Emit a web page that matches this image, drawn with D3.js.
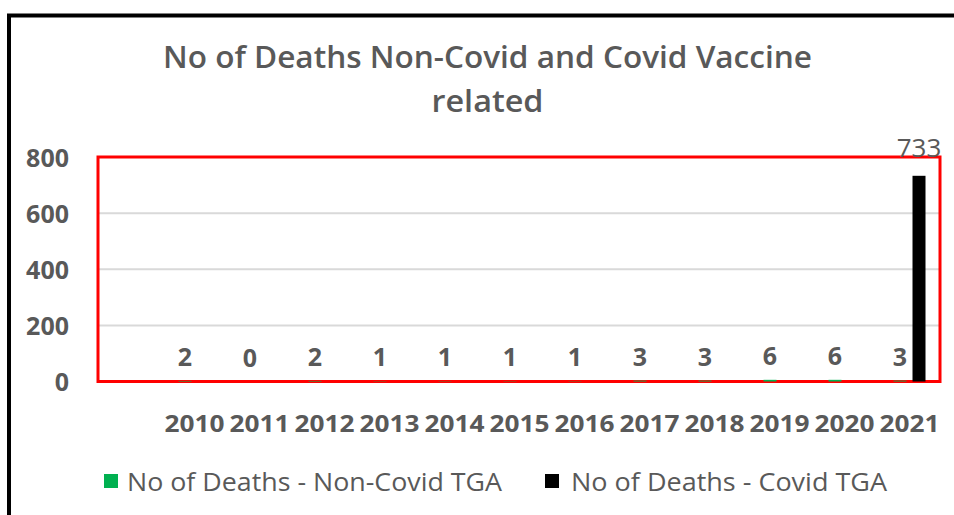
<!DOCTYPE html>
<html>
<head>
<meta charset="utf-8">
<script src="https://cdn.jsdelivr.net/npm/d3@7"></script>
<style>
  html, body { margin: 0; padding: 0; background: #fff; }
  svg { display: block; font-family: "Open Sans", "Liberation Sans", sans-serif; }
</style>
</head>
<body>
<svg id="chart" width="954" height="515"></svg>
<script>
const years = ["2010","2011","2012","2013","2014","2015","2016","2017","2018","2019","2020","2021"];
const nonCovid = [2, 0, 2, 1, 1, 1, 1, 3, 3, 6, 6, 3];
const covid = [null, null, null, null, null, null, null, null, null, null, null, 733];
const seriesNames = ["No of Deaths - Non-Covid TGA", "No of Deaths - Covid TGA"];
const seriesColors = ["#00b050", "#000000"];
const yTicks = [0, 200, 400, 600, 800];
const titleLines = ["No of Deaths Non-Covid and Covid Vaccine", "related"];

const svg = d3.select("#chart");
const grey = "#595959";

// outer frame
svg.append("rect").attr("x", 9).attr("y", 15.5).attr("width", 1000).attr("height", 600)
  .attr("fill", "none").attr("stroke", "#000").attr("stroke-width", 4);

// title
svg.append("text").attr("x", 487.5).attr("y", 68).attr("text-anchor", "middle")
  .attr("font-size", 30).attr("font-weight", 600).attr("fill", grey)
  .attr("textLength", 649).attr("lengthAdjust", "spacingAndGlyphs").text(titleLines[0]);
svg.append("text").attr("x", 487.5).attr("y", 112).attr("text-anchor", "middle")
  .attr("font-size", 30).attr("font-weight", 600).attr("fill", grey)
  .attr("textLength", 112).attr("lengthAdjust", "spacingAndGlyphs").text(titleLines[1]);

const y = d3.scaleLinear().domain([0, 800]).range([381.5, 157]);
const x = d3.scaleBand().domain(years).range([162, 942]);
const x1 = d3.scaleBand().domain([0, 1]).range([-16, 16]).paddingInner(0.316);

// gridlines
svg.append("g").selectAll("line").data(yTicks.filter(t => t > 0 && t < 800)).join("line")
  .attr("x1", 98).attr("x2", 940).attr("y1", d => y(d)).attr("y2", d => y(d))
  .attr("stroke", "#d9d9d9").attr("stroke-width", 2);

// y axis labels
const yAxis = d3.axisLeft(y).tickValues(yTicks).tickSize(0).tickPadding(0);
const yg = svg.append("g").attr("transform", "translate(69,0)").call(yAxis);
yg.select(".domain").remove();
yg.selectAll("text").attr("font-size", 25).attr("font-weight", 700).attr("fill", grey)
  .attr("font-family", "Open Sans, sans-serif").attr("dy", "0.36em");

// x axis labels
const xAxis = d3.axisBottom(x).tickSize(0).tickPadding(0);
const xg = svg.append("g").attr("transform", "translate(0,415)").call(xAxis);
xg.select(".domain").remove();
xg.selectAll("text").attr("font-size", 24).attr("font-weight", 700).attr("fill", grey)
  .attr("font-family", "Open Sans, sans-serif").attr("dy", "0.71em")
  .attr("textLength", 60).attr("lengthAdjust", "spacingAndGlyphs");

// red annotation rectangle
svg.append("rect").attr("x", 98).attr("y", 157).attr("width", 842).attr("height", 224.5)
  .attr("fill", "none").attr("stroke", "#ff0000").attr("stroke-width", 3);

// bars
const rows = years.map((yr, i) => ({ yr, vals: [nonCovid[i], covid[i]] }));
rows.forEach(r => {
  r.vals.forEach((v, s) => {
    if (v === null || v === 0) return;
    const cx = x(r.yr) + x.bandwidth() / 2 + x1(s);
    svg.append("rect").attr("x", cx).attr("y", y(v)).attr("width", x1.bandwidth())
      .attr("height", y(0) - y(v)).attr("fill", seriesColors[s]);
  });
});

// labels for non-covid
svg.append("g").selectAll("text").data(rows).join("text")
  .attr("x", d => x(d.yr) + x.bandwidth() / 2 + x1(0) + x1.bandwidth() / 2)
  .attr("y", d => y(d.vals[0]) - 15)
  .attr("text-anchor", "middle").attr("font-size", 25).attr("font-weight", 700).attr("fill", grey)
  .text(d => d.vals[0]);

// labels for covid
svg.append("g").selectAll("text").data(rows.filter(d => d.vals[1] !== null)).join("text")
  .attr("x", d => x(d.yr) + x.bandwidth() / 2 + x1(1) + x1.bandwidth() / 2)
  .attr("y", 157)
  .attr("text-anchor", "middle").attr("font-size", 26).attr("font-weight", 400).attr("fill", grey)
  .text(d => d.vals[1]);

// legend
const legendItems = [
  { sx: 104, tx: 127, len: 375 },
  { sx: 545, tx: 571, len: 316 }
];
legendItems.forEach((L, i) => {
  svg.append("rect").attr("x", L.sx).attr("y", 474).attr("width", 14).attr("height", 14)
    .attr("fill", seriesColors[i]);
  svg.append("text").attr("x", L.tx).attr("y", 491).attr("font-size", 26).attr("fill", grey)
    .attr("textLength", L.len).attr("lengthAdjust", "spacingAndGlyphs").text(seriesNames[i]);
});
</script>
</body>
</html>
